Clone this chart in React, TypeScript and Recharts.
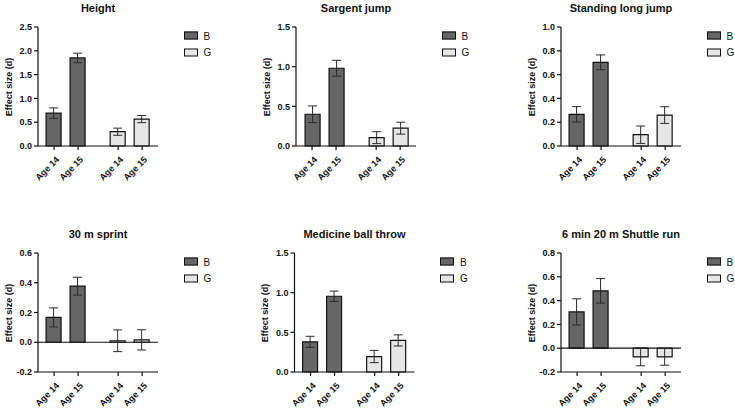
import React from 'react';
import { Bar, BarChart, Cell, ErrorBar, ReferenceLine, XAxis, YAxis } from 'recharts';

// x labels and sex groups shared by every panel
const ageLabels = ['Age 14', 'Age 15', 'Age 14', 'Age 15'];
const sexGroups = ['B', 'B', 'G', 'G'];
const legendGroups = ['B', 'G'];

// effect sizes (d) and their error ranges, in the order of ageLabels
const heightValues = [0.69, 1.85, 0.3, 0.565];
const heightErrors = [0.11, 0.1, 0.075, 0.075];
const heightTicks = [0, 0.5, 1, 1.5, 2, 2.5];

const sargentValues = [0.4, 0.98, 0.105, 0.225];
const sargentErrors = [0.105, 0.1, 0.075, 0.075];
const sargentTicks = [0, 0.5, 1, 1.5];

const longJumpValues = [0.266, 0.703, 0.095, 0.26];
const longJumpErrors = [0.065, 0.062, 0.073, 0.07];
const longJumpTicks = [0, 0.2, 0.4, 0.6, 0.8, 1];

const sprintValues = [0.167, 0.377, 0.01, 0.016];
const sprintErrors = [0.064, 0.06, 0.073, 0.068];
const sprintTicks = [-0.2, 0, 0.2, 0.4, 0.6];

const ballThrowValues = [0.38, 0.955, 0.195, 0.398];
const ballThrowErrors = [0.07, 0.065, 0.077, 0.07];
const ballThrowTicks = [0, 0.5, 1, 1.5];

const shuttleValues = [0.305, 0.482, -0.073, -0.073];
const shuttleErrors = [0.11, 0.103, 0.075, 0.07];
const shuttleTicks = [-0.2, 0, 0.2, 0.4, 0.6, 0.8];

// slot positions on a numeric x axis, leaving a gap between B and G
const SLOT_POS = [1, 2, 3.67, 4.67];
const X_DOMAIN = [0.33, 5.33];

const PANEL_W = 245;
const PANEL_H = 204;
const PLOT_W = 120;
const PLOT_H = 119;
const FONT = '"Liberation Sans", Arial, Helvetica, sans-serif';
const INK = '#111';
const FILLS: Record<string, string> = { B: '#666666', G: '#e6e6e6' };

const panels = [
  { title: 'Height', values: heightValues, errors: heightErrors, ticks: heightTicks, left: 0, top: 0, plotLeft: 38, plotTop: 27 },
  { title: 'Sargent jump', values: sargentValues, errors: sargentErrors, ticks: sargentTicks, left: 245, top: 0, plotLeft: 51, plotTop: 27 },
  { title: 'Standing long jump', values: longJumpValues, errors: longJumpErrors, ticks: longJumpTicks, left: 490, top: 0, plotLeft: 71, plotTop: 27 },
  { title: '30 m sprint', values: sprintValues, errors: sprintErrors, ticks: sprintTicks, left: 0, top: 204, plotLeft: 38, plotTop: 49 },
  { title: 'Medicine ball throw', values: ballThrowValues, errors: ballThrowErrors, ticks: ballThrowTicks, left: 245, top: 204, plotLeft: 49.5, plotTop: 49 },
  { title: '6 min 20 m Shuttle run', values: shuttleValues, errors: shuttleErrors, ticks: shuttleTicks, left: 490, top: 204, plotLeft: 71, plotTop: 49 },
];

function AgeTick(props: any) {
  const { x, y, index } = props;
  const ax = x + 3.5;
  const ay = y + 6;
  return (
    <text
      x={ax}
      y={ay}
      dy="0.35em"
      textAnchor="end"
      transform={`rotate(-45 ${ax} ${ay})`}
      fontFamily={FONT}
      fontSize={9}
      fontWeight="bold"
      fill={INK}
    >
      {ageLabels[index]}
    </text>
  );
}

function Panel({ p }: { p: (typeof panels)[number] }) {
  const rows = ageLabels.map((age, i) => ({
    age,
    group: sexGroups[i],
    pos: SLOT_POS[i],
    value: p.values[i],
    err: p.errors[i],
  }));
  const yMin = p.ticks[0];
  const yMax = p.ticks[p.ticks.length - 1];
  const absLeft = p.left + p.plotLeft;
  const absTop = p.top + p.plotTop;

  return (
    <>
      <div
        style={{
          position: 'absolute',
          left: absLeft + PLOT_W / 2,
          top: absTop - 19,
          transform: 'translate(-50%, -50%)',
          fontSize: 11,
          fontWeight: 'bold',
          whiteSpace: 'nowrap',
          color: INK,
        }}
      >
        {p.title}
      </div>
      <div
        style={{
          position: 'absolute',
          left: absLeft - 29.5,
          top: absTop + PLOT_H / 2,
          transform: 'translate(-50%, -50%) rotate(-90deg)',
          fontSize: 9,
          fontWeight: 'bold',
          whiteSpace: 'nowrap',
          color: INK,
        }}
      >
        Effect size (d)
      </div>
      {legendGroups.map((g, i) => (
        <div
          key={g}
          style={{
            position: 'absolute',
            left: absLeft + 145.5,
            top: absTop + 8.5 + i * 16.5,
            transform: 'translateY(-50%)',
            display: 'flex',
            alignItems: 'center',
            fontSize: 10,
            color: INK,
            whiteSpace: 'nowrap',
          }}
        >
          <span
            style={{
              display: 'inline-block',
              width: 12,
              height: 6,
              background: FILLS[g],
              border: `1px solid ${INK}`,
              marginRight: 6,
            }}
          />
          {g}
        </div>
      ))}
      <div style={{ position: 'absolute', left: p.left, top: p.top }}>
        <BarChart
          width={PANEL_W}
          height={PANEL_H}
          data={rows}
          margin={{ top: p.plotTop, right: PANEL_W - p.plotLeft - PLOT_W, left: 0, bottom: 0 }}
        >
          <XAxis
            type="number"
            dataKey="pos"
            domain={X_DOMAIN}
            ticks={SLOT_POS}
            interval={0}
            allowDataOverflow
            height={PANEL_H - p.plotTop - PLOT_H}
            axisLine={{ stroke: INK, strokeWidth: 1.2 }}
            tickLine={{ stroke: INK, strokeWidth: 1.2 }}
            tickSize={4}
            tickMargin={2}
            tick={<AgeTick />}
          />
          <YAxis
            type="number"
            domain={[yMin, yMax]}
            ticks={p.ticks}
            interval={0}
            width={p.plotLeft}
            axisLine={{ stroke: INK, strokeWidth: 1.2 }}
            tickLine={{ stroke: INK, strokeWidth: 1.2 }}
            tickSize={4}
            tickMargin={2}
            tickFormatter={(v: number) => v.toFixed(1)}
            tick={{ fontFamily: FONT, fontSize: 9, fontWeight: 'bold', fill: INK }}
          />
          {yMin < 0 && <ReferenceLine y={0} stroke={INK} strokeWidth={1.2} />}
          <Bar dataKey="value" barSize={15} stroke={INK} strokeWidth={1.2} isAnimationActive={false}>
            {rows.map((r, i) => (
              <Cell key={i} fill={FILLS[r.group]} />
            ))}
            <ErrorBar dataKey="err" direction="y" width={4.5} stroke="#2a2a2a" strokeWidth={1} isAnimationActive={false} />
          </Bar>
        </BarChart>
      </div>
    </>
  );
}

export default function App() {
  return (
    <div
      style={{
        position: 'absolute',
        left: 0,
        top: 0,
        width: 735,
        height: 408,
        background: '#fff',
        fontFamily: FONT,
        overflow: 'hidden',
      }}
    >
      {panels.map((p) => (
        <Panel key={p.title} p={p} />
      ))}
    </div>
  );
}
